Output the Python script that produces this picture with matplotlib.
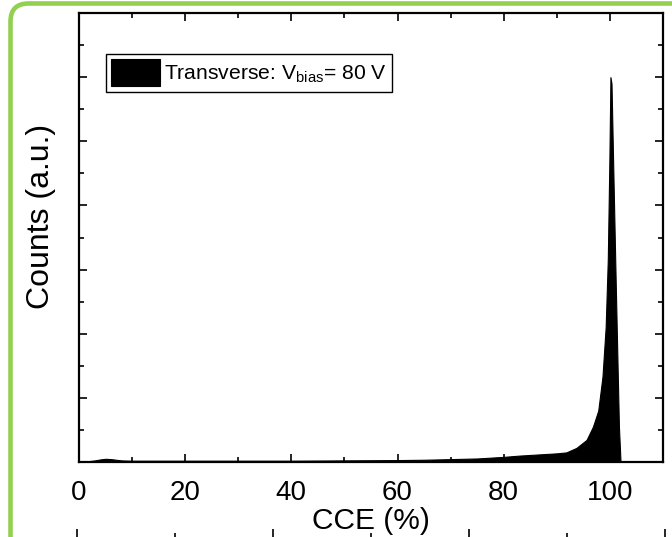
import numpy as np
import matplotlib.pyplot as plt
from matplotlib.patches import FancyBboxPatch
from matplotlib.ticker import MultipleLocator

plt.rcParams['font.family'] = ['Liberation Sans', 'DejaVu Sans']
plt.rcParams['mathtext.fontset'] = 'custom'
plt.rcParams['mathtext.rm'] = 'Liberation Sans'

# CCE histogram (counts in arbitrary units)
cce = [0, 2, 3, 4, 5, 6, 7, 8, 10, 20, 30, 40, 50, 60, 65, 70, 75, 80, 83, 86,
       88, 90, 91.8, 93.7, 95.6, 96.8, 97.8, 98.6, 99.2, 99.6, 99.9, 100.1,
       100.3, 100.6, 101.0, 101.4, 101.7, 102.0, 110]
counts = [0.02, 0.03, 0.05, 0.08, 0.1, 0.09, 0.07, 0.05, 0.04, 0.04, 0.04, 0.04,
          0.05, 0.06, 0.07, 0.09, 0.11, 0.16, 0.2, 0.23, 0.25, 0.27, 0.3, 0.44,
          0.69, 1.1, 1.6, 2.66, 4.2, 6.3, 9.4, 12.0, 11.8, 9.4, 6.3, 3.3, 1.1,
          0.0, 0.0]
xticks = [0, 20, 40, 60, 80, 100]
legend_label = r'Transverse: V$_\mathregular{bias}$= 80 V'

fig = plt.figure(figsize=(6.72, 5.37), dpi=100)

# green rounded frame (partly cut by the figure edge)
frame = FancyBboxPatch((10.5, -60), 720, 593.5, boxstyle='round,pad=0,rounding_size=18',
                       transform=None, lw=3.3, ec='#92D050', fc='none', clip_on=False)
fig.add_artist(frame)

ax = fig.add_axes([79/672, 1 - 462/537, 584/672, 449/537])
ax.fill_between(cce, counts, 0, color='black', lw=0.8, label=legend_label)

ax.set_xlim(0, 110)
ax.set_ylim(0, 14)
ax.set_xticks(xticks)
ax.xaxis.set_minor_locator(MultipleLocator(10))
ax.yaxis.set_major_locator(MultipleLocator(2))
ax.yaxis.set_minor_locator(MultipleLocator(1))
ax.set_yticklabels([])
ax.tick_params(which='both', direction='in', top=True, right=True, width=1.2,
               labelsize=20, pad=13)
ax.tick_params(which='major', length=5.5)
ax.tick_params(which='minor', length=3.5)
for s in ax.spines.values():
    s.set_linewidth(1.6)

ax.set_xlabel('CCE (%)', fontsize=21.5, labelpad=1)
ax.set_ylabel('Counts (a.u.)', fontsize=23)
ax.yaxis.set_label_coords(-0.039, 0.546)

leg = ax.legend(loc='upper left', bbox_to_anchor=(0.046, 0.909), borderaxespad=0,
                fontsize=15.2, handlelength=2.3, handleheight=1.6, handletextpad=0.2,
                borderpad=0.25, fancybox=False, framealpha=1, edgecolor='black')
leg.get_frame().set_linewidth(1.0)

# ticks of the next panel peeking in at the bottom edge
ax2 = fig.add_axes([77/672, -0.5, 588/672, 0.5])
ax2.set_xlim(0, 3)
ax2.set_xticks([0, 1, 2, 3])
ax2.xaxis.set_minor_locator(MultipleLocator(0.5))
ax2.tick_params(which='both', direction='out', bottom=False, top=True, left=False,
                labelbottom=False, labelleft=False, width=1.2)
ax2.tick_params(which='major', length=5.5)
ax2.tick_params(which='minor', length=3)
for s in ax2.spines.values():
    s.set_visible(False)
ax2.patch.set_visible(False)

fig.savefig('out.png', dpi=100)
